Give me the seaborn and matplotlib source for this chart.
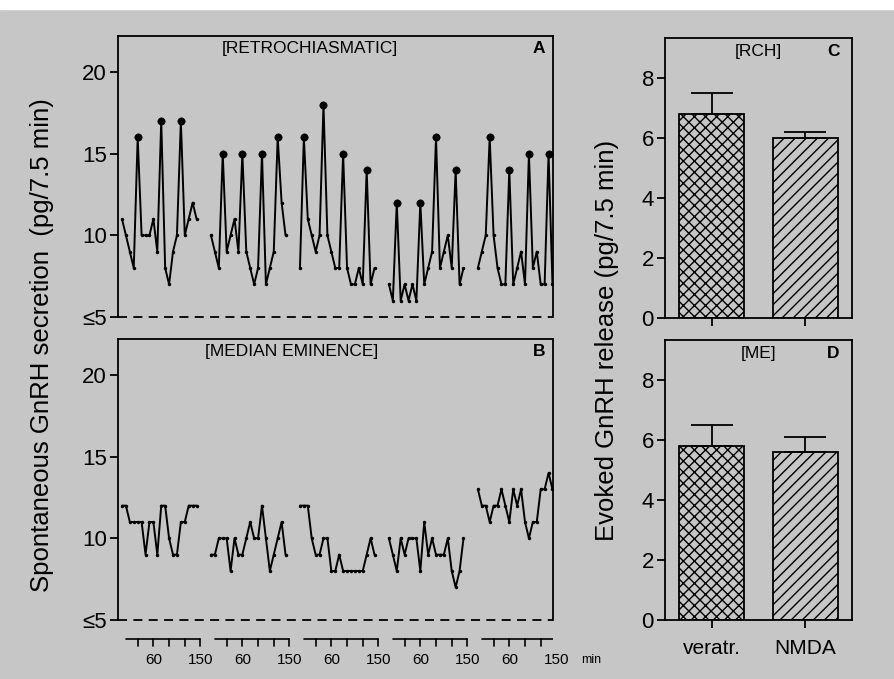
import matplotlib
matplotlib.use('Agg')
import matplotlib.pyplot as plt
from matplotlib.patches import Rectangle
import seaborn as sns
import pandas as pd

sns.set_style('white')
plt.rcParams['font.family'] = ['Liberation Sans', 'DejaVu Sans']
plt.rcParams['hatch.linewidth'] = 1.0
for key in ['text.color', 'axes.labelcolor', 'xtick.color', 'ytick.color']:
    plt.rcParams[key] = 'black'

BG = '#c6c6c6'

# sampling times within one animal's run (min)
sample_minutes = [0, 7.5, 15, 22.5, 30, 37.5, 45, 52.5, 60, 67.5,
                  75, 82.5, 90, 97.5, 105, 112.5, 120, 127.5, 135, 142.5]

# spontaneous GnRH secretion, retrochiasmatic area (pg/7.5 min), 5 animals
rch_1 = [11, 10, 9, 8, 16, 10, 10, 10, 11, 9, 17, 8, 7, 9, 10, 17, 10, 11, 12, 11]
rch_2 = [10, 9, 8, 15, 9, 10, 11, 9, 15, 9, 8, 7, 8, 15, 7, 8, 9, 16, 12, 10]
rch_3 = [8, 16, 11, 10, 9, 10, 18, 10, 9, 8, 8, 15, 8, 7, 7, 8, 7, 14, 7, 8]
rch_4 = [7, 6, 12, 6, 7, 6, 7, 6, 12, 7, 8, 9, 16, 8, 9, 10, 8, 14, 7, 8]
rch_5 = [8, 9, 10, 16, 10, 8, 7, 7, 14, 7, 8, 9, 7, 15, 8, 9, 7, 7, 15, 7]
# samples marked as pulses (index into each run)
rch_pulses = [[4, 10, 15], [3, 8, 13, 17], [1, 6, 11, 17], [2, 8, 12, 17], [3, 8, 13, 18]]

# spontaneous GnRH secretion, median eminence (pg/7.5 min), 5 animals
me_1 = [12, 12, 11, 11, 11, 11, 9, 11, 11, 9, 12, 12, 10, 9, 9, 11, 11, 12, 12, 12]
me_2 = [9, 9, 10, 10, 10, 8, 10, 9, 9, 10, 11, 10, 10, 12, 10, 8, 9, 10, 11, 9]
me_3 = [12, 12, 12, 10, 9, 9, 10, 10, 8, 8, 9, 8, 8, 8, 8, 8, 8, 9, 10, 9]
me_4 = [10, 9, 8, 10, 9, 10, 10, 10, 8, 11, 9, 10, 9, 9, 9, 10, 8, 7, 8, 10]
me_5 = [13, 12, 12, 11, 12, 12, 13, 12, 11, 13, 12, 13, 11, 10, 11, 11, 13, 13, 14, 13]

# evoked release (mean + SEM)
treatments = ['veratr.', 'NMDA']
rch_mean = [6.8, 6.0]
rch_sem = [0.7, 0.2]
me_mean = [5.8, 5.6]
me_sem = [0.7, 0.5]

tick_minutes = [30, 60, 90, 120, 150]
tick_text = {60: '60', 150: '150'}
run_gap = 170  # spacing between animals on the shared time axis (min)


def runs_frame(runs, pulses=None):
    rows = []
    for k, run in enumerate(runs):
        for i, (m, v) in enumerate(zip(sample_minutes, run)):
            rows.append({'animal': k, 'minute': m + k * run_gap, 'value': v,
                         'pulse': pulses is not None and i in pulses[k]})
    return pd.DataFrame(rows)


def px_axes(fig, left, top, right, bottom):
    W, H = 895, 679
    return fig.add_axes([left / W, 1 - bottom / H, (right - left) / W, (bottom - top) / H])


fig = plt.figure(figsize=(8.95, 6.79), dpi=100, facecolor=BG)
fig.add_artist(Rectangle((0, 1 - 9 / 679), 1, 9 / 679, transform=fig.transFigure,
                         color='white', zorder=0))

ax_a = px_axes(fig, 118, 36, 553, 317)
ax_b = px_axes(fig, 118, 339, 553, 620)
ax_c = px_axes(fig, 665, 38, 852, 318)
ax_d = px_axes(fig, 665, 340, 852, 620)
ax_t = px_axes(fig, 118, 622, 553, 679)

xlim = (-7.6, 823.5)

# pulse panels
for ax, runs, pulses, title, letter, tx in [
        (ax_a, [rch_1, rch_2, rch_3, rch_4, rch_5], rch_pulses, '[RETROCHIASMATIC]', 'A', 0.44),
        (ax_b, [me_1, me_2, me_3, me_4, me_5], None, '[MEDIAN EMINENCE]', 'B', 0.40)]:
    df = runs_frame(runs, pulses)
    sns.lineplot(data=df, x='minute', y='value', units='animal', estimator=None,
                 color='black', lw=1.4, marker='o', markersize=2.5,
                 markeredgewidth=0, ax=ax)
    if pulses is not None:
        sns.scatterplot(data=df[df['pulse']], x='minute', y='value', color='black',
                        s=28, edgecolor='black', ax=ax, zorder=3)
    ax.set_facecolor(BG)
    ax.set_xlim(xlim)
    ax.set_ylim(5, 22.2)
    ax.set_xticks([])
    ax.set_yticks([5, 10, 15, 20])
    ax.set_yticklabels(['≤5', '10', '15', '20'])
    ax.tick_params(axis='y', direction='out', length=6, width=1.3, labelsize=16, pad=2,
                   left=True)
    ax.set_xlabel('')
    ax.set_ylabel('')
    for side in ['left', 'right', 'top']:
        ax.spines[side].set_linewidth(1.3)
        ax.spines[side].set_color('black')
    ax.spines['bottom'].set_visible(False)
    ax.axhline(5, color='black', lw=1.3, dashes=(5, 3.5), clip_on=False)
    ax.text(tx, 0.955, title, transform=ax.transAxes,
            ha='center', va='center', fontsize=12.5)
    ax.text(0.968, 0.955, letter, transform=ax.transAxes, ha='center', va='center',
            fontsize=12.5, fontweight='bold')

# time axes under panel B
ax_t.set_xlim(xlim)
ax_t.set_ylim(57, 0)
ax_t.axis('off')
for k in range(5):
    off = k * run_gap
    ax_t.plot([7.5 + off, 150 + off], [17, 17], color='black', lw=1.2)
    for t in tick_minutes:
        ax_t.plot([t + off, t + off], [17, 24], color='black', lw=1.2)
        if t in tick_text:
            ax_t.text(t + off, 38, tick_text[t], ha='center', va='center', fontsize=11)
ax_t.text(150 + 4 * run_gap + 48, 38, 'min', ha='left', va='center', fontsize=9)

# evoked release panels
for ax, means, sems, title, letter, show_labels in [
        (ax_c, rch_mean, rch_sem, '[RCH]', 'C', False),
        (ax_d, me_mean, me_sem, '[ME]', 'D', True)]:
    bars = pd.DataFrame({'treatment': treatments, 'release': means})
    sns.barplot(data=bars, x='treatment', y='release', color=BG, saturation=1,
                edgecolor='black', linewidth=1.3, width=0.7, errorbar=None, ax=ax)
    for patch, hatch in zip(ax.patches, ['xxx', '///']):
        patch.set_hatch(hatch)
    ax.errorbar([0, 1], means, yerr=[[0, 0], sems], fmt='none', ecolor='black',
                elinewidth=1.3, capsize=15, capthick=1.3)
    ax.set_facecolor(BG)
    ax.set_xlim(-0.5, 1.5)
    ax.set_ylim(0, 9.35)
    ax.set_yticks([0, 2, 4, 6, 8])
    ax.tick_params(axis='both', direction='out', length=6, width=1.3, labelsize=16,
                   pad=2, left=True, bottom=True)
    ax.set_xlabel('')
    ax.set_ylabel('')
    if show_labels:
        ax.tick_params(axis='x', labelsize=15, pad=8)
    else:
        ax.set_xticklabels([])
    for side in ax.spines:
        ax.spines[side].set_linewidth(1.3)
        ax.spines[side].set_color('black')
    ax.text(0.5, 0.953, title, transform=ax.transAxes, ha='center', va='center',
            fontsize=12.5)
    ax.text(0.9, 0.953, letter, transform=ax.transAxes, ha='center', va='center',
            fontsize=12.5, fontweight='bold')

fig.text(42 / 895, 1 - 345 / 679, 'Spontaneous GnRH secretion  (pg/7.5 min)',
         rotation=90, ha='center', va='center', fontsize=18.5)
fig.text(607 / 895, 1 - 340 / 679, 'Evoked GnRH release (pg/7.5 min)',
         rotation=90, ha='center', va='center', fontsize=18.5)

fig.savefig('out.png', dpi=100, facecolor=BG)
